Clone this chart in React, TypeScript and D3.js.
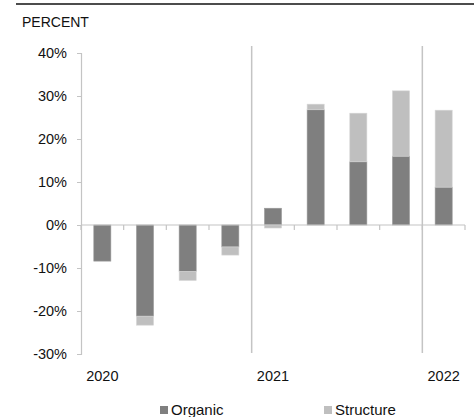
import React, { useRef, useEffect } from "react";
import * as d3 from "d3";

const periods = ["Q1-20", "Q2-20", "Q3-20", "Q4-20", "Q1-21", "Q2-21", "Q3-21", "Q4-21", "Q1-22"];
const organic = [-8.4, -21.2, -10.8, -5.1, 3.9, 26.8, 14.7, 16.0, 8.8];
const structure = [0, -2.1, -2.1, -1.9, -0.7, 1.3, 11.3, 15.2, 17.9];
const yTicks = [40, 30, 20, 10, 0, -10, -20, -30];
const yearLabels = [
  { label: "2020", at: "Q1-20" },
  { label: "2021", at: "Q1-21" },
  { label: "2022", at: "Q1-22" },
];
const yearBreaks = ["Q1-21", "Q1-22"];

const DARK = "#7f7f7f";
const LIGHT = "#bfbfbf";
const AXIS = "#c4c4c4";
const FONT = "'Liberation Sans', Arial, sans-serif";

export default function App() {
  const svgRef = useRef<SVGSVGElement>(null);

  useEffect(() => {
    const width = 474;
    const height = 417;
    const margin = { left: 81, right: 9, top: 53, bottom: 63 };
    const svg = d3.select(svgRef.current);
    svg.selectAll("*").remove();
    svg.attr("width", width).attr("height", height);

    const x = d3.scaleBand()
      .domain(periods)
      .range([margin.left, width - margin.right])
      .paddingInner(0.6)
      .paddingOuter(0.3);

    const y = d3.scaleLinear()
      .domain([-30, 40])
      .range([height - margin.bottom, margin.top]);

    // top rule
    svg.append("line")
      .attr("x1", 16).attr("x2", width)
      .attr("y1", 4).attr("y2", 4)
      .attr("stroke", "#111").attr("stroke-width", 1.5);

    svg.append("text")
      .attr("x", 22).attr("y", 27)
      .attr("font-family", FONT).attr("font-size", 14).attr("fill", "#111")
      .text("PERCENT");

    // y axis
    const yAxis = svg.append("g")
      .attr("transform", `translate(${margin.left},0)`)
      .call(d3.axisLeft(y).tickValues(yTicks).tickSize(4).tickFormat(d => `${d}%`));
    yAxis.select(".domain").attr("stroke", AXIS).attr("stroke-width", 1.2);
    yAxis.selectAll(".tick line").attr("stroke", AXIS);
    yAxis.selectAll(".tick text")
      .attr("x", -14)
      .attr("font-family", FONT).attr("font-size", 14.5).attr("fill", "#111");

    const step = x.step();
    const bandStart = (p: string) => (x(p) as number) - step * x.paddingInner() / 2;

    // year separators
    yearBreaks.forEach(p => {
      svg.append("line")
        .attr("x1", bandStart(p)).attr("x2", bandStart(p))
        .attr("y1", 46).attr("y2", y(-30) - 1)
        .attr("stroke", AXIS).attr("stroke-width", 1.5);
    });

    // bars
    const bw = x.bandwidth();
    periods.forEach((p, i) => {
      const o = organic[i];
      const s = structure[i];
      const x0 = x(p) as number;
      svg.append("rect")
        .attr("x", x0).attr("width", bw)
        .attr("y", y(Math.max(0, o))).attr("height", Math.abs(y(o) - y(0)))
        .attr("fill", DARK).attr("stroke", "#9a9a9a").attr("stroke-width", 0.6);
      if (s !== 0) {
        const base = (o >= 0) === (s >= 0) ? o : 0;
        const top = base + s;
        svg.append("rect")
          .attr("x", x0).attr("width", bw)
          .attr("y", y(Math.max(base, top))).attr("height", Math.abs(y(top) - y(base)))
          .attr("fill", LIGHT).attr("stroke", "#d6d6d6").attr("stroke-width", 0.6);
      }
    });

    // zero axis with ticks between bands
    svg.append("line")
      .attr("x1", margin.left).attr("x2", width - margin.right)
      .attr("y1", y(0)).attr("y2", y(0))
      .attr("stroke", AXIS).attr("stroke-width", 1.2);
    periods.forEach((p, i) => {
      const bx = i === 0 ? margin.left : bandStart(p);
      svg.append("line")
        .attr("x1", bx).attr("x2", bx)
        .attr("y1", y(0)).attr("y2", y(0) + 5)
        .attr("stroke", AXIS).attr("stroke-width", 1.2);
    });
    svg.append("line")
      .attr("x1", width - margin.right).attr("x2", width - margin.right)
      .attr("y1", y(0)).attr("y2", y(0) + 5)
      .attr("stroke", AXIS).attr("stroke-width", 1.2);

    // year labels
    yearLabels.forEach(d => {
      svg.append("text")
        .attr("x", (x(d.at) as number) + bw / 2).attr("y", 381)
        .attr("text-anchor", "middle")
        .attr("font-family", FONT).attr("font-size", 14.5).attr("fill", "#111")
        .text(d.label);
    });

    // legend
    const legend = [
      { name: "Organic", color: DARK, x: 160 },
      { name: "Structure", color: LIGHT, x: 324 },
    ];
    legend.forEach(l => {
      svg.append("rect")
        .attr("x", l.x).attr("y", 406).attr("width", 8).attr("height", 8)
        .attr("fill", l.color);
      svg.append("text")
        .attr("x", l.x + 11).attr("y", 414.5)
        .attr("font-family", FONT).attr("font-size", 15).attr("fill", "#111")
        .text(l.name);
    });
  }, []);

  return <svg ref={svgRef} style={{ position: "absolute", left: 0, top: 0 }} />;
}
